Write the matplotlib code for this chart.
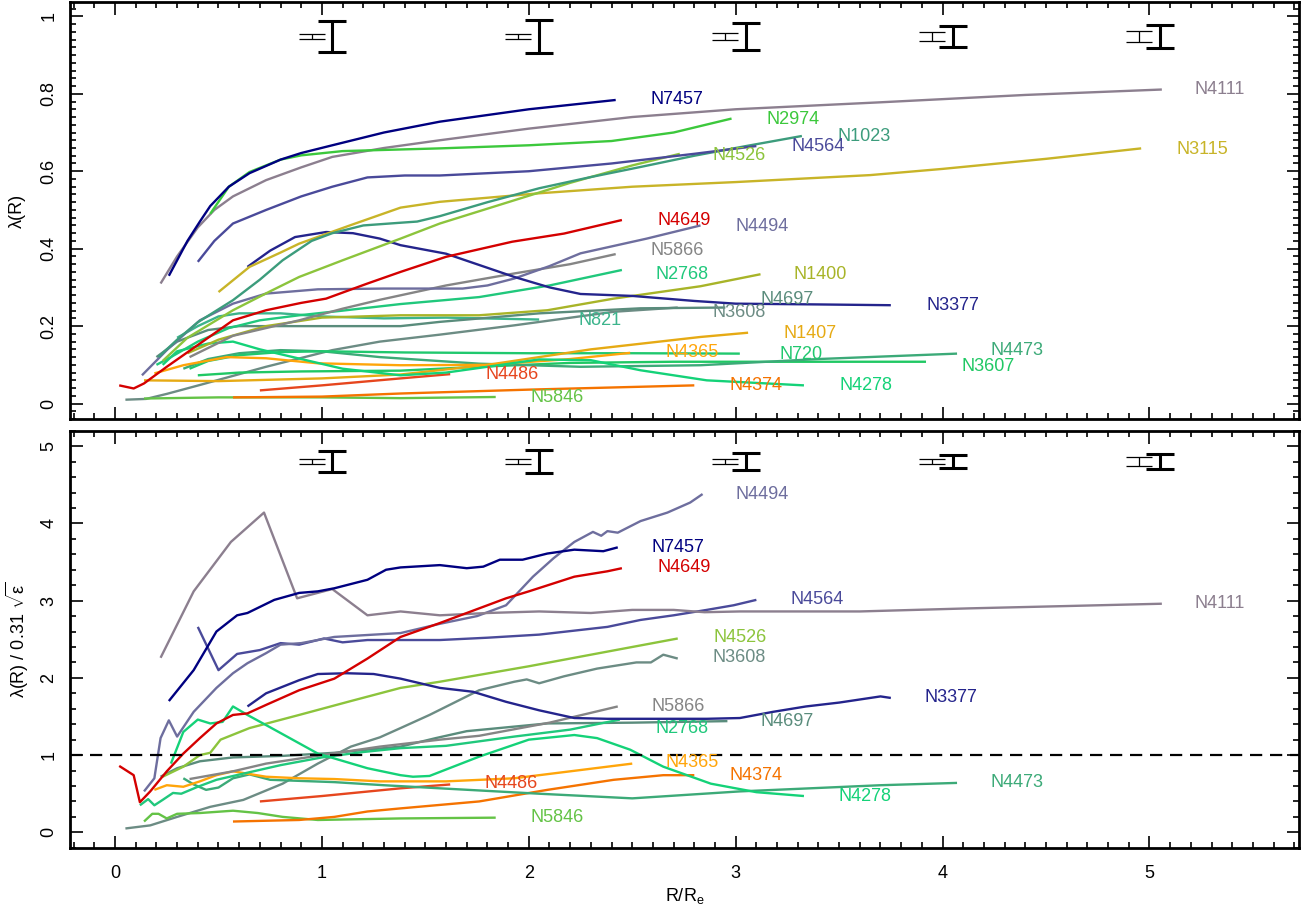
import matplotlib.pyplot as plt
from matplotlib.ticker import MultipleLocator

plt.rcParams['font.family'] = ['Liberation Sans', 'DejaVu Sans']
plt.rcParams['mathtext.fontset'] = 'custom'
plt.rcParams['mathtext.rm'] = 'Liberation Sans'
plt.rcParams['mathtext.it'] = 'Liberation Sans:italic'

# lambda(R) profiles: (R/Re, lambda)
lam_N7457 = [(0.26, 0.33), (0.35, 0.42), (0.41, 0.47), (0.46, 0.51), (0.55, 0.56), (0.65, 0.595), (0.8, 0.63),
             (0.9, 0.647), (1.05, 0.667), (1.3, 0.70), (1.57, 0.728), (2.0, 0.76), (2.42, 0.784)]
lam_N4111 = [(0.22, 0.31), (0.30, 0.38), (0.40, 0.455), (0.48, 0.50), (0.57, 0.535), (0.73, 0.577), (0.9, 0.61),
             (1.05, 0.637), (1.3, 0.66), (1.57, 0.68), (2.0, 0.71), (2.5, 0.74), (3.0, 0.76), (3.7, 0.778),
             (4.4, 0.797), (5.06, 0.811)]
lam_N2974 = [(0.46, 0.49), (0.55, 0.56), (0.65, 0.598), (0.8, 0.63), (0.9, 0.641), (1.1, 0.652), (1.57, 0.659),
             (2.0, 0.667), (2.4, 0.678), (2.7, 0.70), (2.98, 0.736)]
lam_N1023 = [(0.21, 0.12), (0.30, 0.165), (0.40, 0.21), (0.57, 0.267), (0.70, 0.32), (0.81, 0.37), (0.95, 0.42),
             (1.05, 0.44), (1.2, 0.46), (1.38, 0.467), (1.46, 0.47), (1.57, 0.484), (1.8, 0.52), (2.05, 0.556),
             (2.3, 0.585), (2.54, 0.611), (2.8, 0.64), (3.05, 0.665), (3.32, 0.691)]
lam_N4564 = [(0.40, 0.366), (0.48, 0.42), (0.57, 0.465), (0.73, 0.50), (0.9, 0.535), (1.05, 0.56), (1.22, 0.584),
             (1.4, 0.589), (1.57, 0.589), (2.0, 0.60), (2.4, 0.62), (2.8, 0.645), (3.1, 0.665)]
lam_N4526 = [(0.23, 0.11), (0.35, 0.17), (0.57, 0.241), (0.75, 0.29), (0.89, 0.327), (1.1, 0.37), (1.38, 0.426),
             (1.57, 0.465), (1.9, 0.52), (2.2, 0.57), (2.5, 0.615), (2.73, 0.645)]
lam_N3115 = [(0.50, 0.288), (0.65, 0.353), (0.8, 0.39), (0.89, 0.413), (1.14, 0.461), (1.38, 0.506), (1.57, 0.521),
             (2.05, 0.543), (2.5, 0.56), (3.0, 0.572), (3.65, 0.59), (4.0, 0.606), (4.5, 0.632), (4.96, 0.659)]
lam_N4649 = [(0.02, 0.047), (0.09, 0.039), (0.14, 0.052), (0.25, 0.095), (0.41, 0.155), (0.57, 0.215),
             (0.73, 0.241), (0.9, 0.26), (1.02, 0.271), (1.22, 0.31), (1.38, 0.34), (1.6, 0.379), (1.92, 0.418),
             (2.17, 0.439), (2.45, 0.474)]
lam_N4494 = [(0.13, 0.073), (0.25, 0.138), (0.41, 0.215), (0.57, 0.258), (0.73, 0.284), (0.98, 0.295),
             (1.3, 0.297), (1.68, 0.297), (1.8, 0.305), (1.93, 0.323), (2.1, 0.355), (2.25, 0.388), (2.57, 0.426),
             (2.83, 0.46)]
lam_N5866 = [(0.36, 0.12), (0.57, 0.175), (0.89, 0.215), (1.1, 0.245), (1.28, 0.268), (1.6, 0.305),
             (1.93, 0.336), (2.2, 0.36), (2.42, 0.386)]
lam_N2768 = [(0.2, 0.10), (0.27, 0.12), (0.4, 0.16), (0.55, 0.195), (0.7, 0.215), (0.89, 0.228), (1.1, 0.24),
             (1.38, 0.257), (1.76, 0.275), (2.1, 0.305), (2.45, 0.345)]
lam_N1400 = [(0.35, 0.13), (0.5, 0.165), (0.73, 0.20), (1.0, 0.222), (1.38, 0.228), (1.76, 0.228), (2.09, 0.241),
             (2.41, 0.271), (2.83, 0.303), (3.12, 0.334)]
lam_N3377 = [(0.64, 0.353), (0.75, 0.395), (0.87, 0.43), (1.02, 0.443), (1.15, 0.44), (1.28, 0.426),
             (1.38, 0.409), (1.6, 0.387), (1.93, 0.327), (2.1, 0.30), (2.25, 0.283), (2.5, 0.278), (2.8, 0.265),
             (3.0, 0.258), (3.4, 0.256), (3.75, 0.254)]
lam_N4697 = [(0.2, 0.12), (0.3, 0.16), (0.45, 0.19), (0.6, 0.2), (1.0, 0.2), (1.38, 0.2), (1.57, 0.211),
             (2.05, 0.233), (2.54, 0.246), (2.95, 0.248)]
lam_N3608 = [(0.05, 0.01), (0.15, 0.012), (0.25, 0.025), (0.41, 0.048), (0.73, 0.095), (1.05, 0.138),
             (1.28, 0.16), (1.57, 0.178), (1.93, 0.202), (2.41, 0.237), (2.72, 0.248)]
lam_N821 = [(0.3, 0.17), (0.4, 0.2), (0.5, 0.225), (0.6, 0.233), (0.8, 0.233), (1.0, 0.225), (1.3, 0.22),
            (1.6, 0.222), (2.05, 0.217)]
lam_N1407 = [(0.14, 0.06), (0.5, 0.058), (1.0, 0.065), (1.38, 0.075), (1.8, 0.10), (2.3, 0.14), (2.83, 0.172),
             (3.06, 0.183)]
lam_N4365 = [(0.19, 0.078), (0.33, 0.099), (0.54, 0.12), (0.73, 0.117), (0.98, 0.104), (1.38, 0.099),
             (1.8, 0.10), (2.2, 0.115), (2.49, 0.131)]
lam_N720 = [(0.36, 0.09), (0.45, 0.11), (0.6, 0.125), (0.8, 0.133), (1.0, 0.135), (1.4, 0.132), (2.0, 0.13),
            (2.5, 0.13), (3.02, 0.129)]
lam_N4473 = [(0.33, 0.09), (0.45, 0.115), (0.6, 0.13), (0.8, 0.138), (1.0, 0.135), (1.28, 0.12), (1.76, 0.103),
             (2.25, 0.095), (2.83, 0.099), (3.4, 0.115), (4.07, 0.129)]
lam_N3607 = [(0.40, 0.073), (0.6, 0.08), (0.9, 0.083), (1.38, 0.085), (1.76, 0.095), (2.2, 0.105), (2.7, 0.108),
             (3.3, 0.108), (3.92, 0.108)]
lam_N4486 = [(0.70, 0.034), (1.0, 0.047), (1.38, 0.065), (1.62, 0.076)]
lam_N4374 = [(0.57, 0.016), (1.0, 0.018), (1.38, 0.026), (2.0, 0.036), (2.8, 0.047)]
lam_N4278 = [(0.23, 0.10), (0.3, 0.135), (0.45, 0.155), (0.57, 0.16), (0.7, 0.14), (0.9, 0.115), (1.1, 0.09),
             (1.38, 0.073), (1.6, 0.08), (1.8, 0.095), (2.05, 0.114), (2.3, 0.112), (2.54, 0.086), (2.86, 0.06),
             (3.33, 0.047)]
lam_N5846 = [(0.14, 0.013), (0.5, 0.016), (1.0, 0.016), (1.38, 0.014), (1.84, 0.017)]

# normalised profiles: (R/Re, lambda / 0.31 sqrt(eps))
nrm_N4649 = [(0.02, 0.86), (0.09, 0.74), (0.12, 0.39), (0.17, 0.53), (0.25, 0.79), (0.33, 1.02), (0.41, 1.22),
             (0.49, 1.41), (0.57, 1.52), (0.64, 1.54), (0.73, 1.65), (0.89, 1.84), (1.06, 1.99), (1.22, 2.25),
             (1.38, 2.53), (1.57, 2.71), (1.89, 3.03), (2.0, 3.12), (2.22, 3.31), (2.38, 3.38), (2.45, 3.42)]
nrm_N7457 = [(0.26, 1.70), (0.38, 2.10), (0.49, 2.60), (0.59, 2.81), (0.64, 2.84), (0.77, 3.01), (0.89, 3.10),
             (0.98, 3.12), (1.06, 3.16), (1.22, 3.27), (1.31, 3.40), (1.38, 3.43), (1.57, 3.46), (1.70, 3.42),
             (1.78, 3.44), (1.86, 3.53), (1.97, 3.53), (2.09, 3.61), (2.22, 3.66), (2.36, 3.64), (2.43, 3.69)]
nrm_N4111 = [(0.22, 2.26), (0.38, 3.12), (0.56, 3.76), (0.72, 4.14), (0.88, 3.03), (1.05, 3.15), (1.22, 2.81),
             (1.38, 2.86), (1.57, 2.81), (1.8, 2.84), (2.05, 2.86), (2.3, 2.84), (2.5, 2.88), (2.7, 2.88),
             (2.85, 2.85), (3.02, 2.86), (3.3, 2.86), (3.6, 2.86), (4.13, 2.90), (4.6, 2.93), (5.06, 2.96)]
nrm_N4564 = [(0.40, 2.66), (0.50, 2.10), (0.59, 2.31), (0.70, 2.36), (0.80, 2.45), (0.89, 2.43), (1.01, 2.51),
             (1.10, 2.46), (1.22, 2.49), (1.57, 2.49), (1.8, 2.52), (2.05, 2.56), (2.38, 2.66), (2.54, 2.75),
             (2.70, 2.81), (2.86, 2.88), (2.99, 2.94), (3.10, 3.01)]
nrm_N4494 = [(0.14, 0.53), (0.19, 0.70), (0.22, 1.22), (0.26, 1.45), (0.30, 1.24), (0.38, 1.56), (0.49, 1.87),
             (0.57, 2.06), (0.64, 2.19), (0.73, 2.32), (0.80, 2.43), (0.90, 2.45), (1.06, 2.53), (1.38, 2.58),
             (1.57, 2.70), (1.75, 2.80), (1.89, 2.94), (2.02, 3.31), (2.12, 3.55), (2.22, 3.76), (2.31, 3.89),
             (2.35, 3.84), (2.38, 3.90), (2.43, 3.88), (2.54, 4.03), (2.67, 4.14), (2.78, 4.27), (2.84, 4.38)]
nrm_N3377 = [(0.64, 1.63), (0.73, 1.80), (0.89, 1.97), (0.98, 2.05), (1.12, 2.06), (1.25, 2.05), (1.38, 1.99),
             (1.57, 1.87), (1.73, 1.82), (1.89, 1.69), (2.05, 1.58), (2.22, 1.48), (2.38, 1.47), (2.54, 1.47),
             (2.86, 1.47), (3.02, 1.48), (3.18, 1.56), (3.34, 1.63), (3.5, 1.68), (3.70, 1.76), (3.75, 1.74)]
nrm_N4526 = [(0.23, 0.72), (0.33, 0.85), (0.41, 1.0), (0.46, 1.03), (0.51, 1.20), (0.65, 1.35), (0.89, 1.52),
             (1.14, 1.70), (1.38, 1.87), (1.57, 1.95), (2.0, 2.15), (2.4, 2.35), (2.72, 2.51)]
nrm_N3608 = [(0.05, 0.05), (0.17, 0.09), (0.3, 0.2), (0.46, 0.33), (0.62, 0.42), (0.81, 0.63), (0.98, 0.89),
             (1.14, 1.11), (1.28, 1.23), (1.38, 1.35), (1.52, 1.52), (1.76, 1.84), (1.93, 1.95), (1.99, 1.98),
             (2.05, 1.93), (2.17, 2.02), (2.33, 2.12), (2.52, 2.20), (2.59, 2.20), (2.65, 2.30), (2.72, 2.25)]
nrm_N5866 = [(0.36, 0.69), (0.57, 0.79), (0.73, 0.89), (1.05, 1.02), (1.28, 1.11), (1.57, 1.2), (1.76, 1.25),
             (2.1, 1.42), (2.43, 1.63)]
nrm_N2768 = [(0.12, 0.35), (0.16, 0.43), (0.19, 0.35), (0.23, 0.42), (0.28, 0.51), (0.32, 0.50), (0.40, 0.59),
             (0.49, 0.68), (0.62, 0.76), (0.8, 0.87), (1.0, 0.97), (1.2, 1.04), (1.38, 1.09), (1.6, 1.12),
             (1.93, 1.24), (2.2, 1.33), (2.44, 1.46)]
nrm_N4278 = [(0.27, 0.89), (0.33, 1.30), (0.40, 1.46), (0.46, 1.41), (0.52, 1.43), (0.57, 1.63), (0.64, 1.52),
             (0.77, 1.33), (0.98, 1.02), (1.22, 0.83), (1.38, 0.74), (1.44, 0.72), (1.52, 0.73), (1.76, 0.98),
             (2.0, 1.20), (2.22, 1.26), (2.33, 1.22), (2.49, 1.07), (2.65, 0.85), (2.88, 0.63), (3.1, 0.52),
             (3.33, 0.47)]
nrm_N4473 = [(0.33, 0.70), (0.38, 0.62), (0.44, 0.55), (0.50, 0.58), (0.57, 0.70), (0.65, 0.75), (0.75, 0.68),
             (1.06, 0.65), (1.3, 0.61), (1.57, 0.57), (2.05, 0.50), (2.5, 0.44), (3.02, 0.53), (3.7, 0.61),
             (4.07, 0.64)]
nrm_N4365 = [(0.19, 0.55), (0.25, 0.61), (0.33, 0.59), (0.41, 0.66), (0.49, 0.74), (0.57, 0.79), (0.73, 0.72),
             (0.89, 0.70), (1.06, 0.69), (1.28, 0.66), (1.6, 0.66), (1.93, 0.70), (2.2, 0.79), (2.5, 0.89)]
nrm_N4486 = [(0.70, 0.40), (1.0, 0.47), (1.38, 0.57), (1.62, 0.62)]
nrm_N4374 = [(0.57, 0.14), (0.89, 0.16), (1.06, 0.20), (1.22, 0.27), (1.38, 0.31), (1.76, 0.40), (2.09, 0.55),
             (2.41, 0.68), (2.65, 0.74), (2.80, 0.74)]
nrm_N5846 = [(0.14, 0.14), (0.18, 0.24), (0.21, 0.24), (0.25, 0.18), (0.30, 0.24), (0.41, 0.25), (0.57, 0.28),
             (0.69, 0.25), (0.81, 0.20), (0.98, 0.16), (1.38, 0.18), (1.84, 0.19)]
nrm_N4697 = [(0.22, 0.72), (0.3, 0.83), (0.41, 0.92), (0.57, 0.97), (0.81, 0.99), (1.06, 1.03), (1.38, 1.11),
             (1.55, 1.22), (1.70, 1.31), (2.09, 1.41), (2.5, 1.42), (2.96, 1.44)]

# typical uncertainties at R/Re = 1..5
err_x = [1, 2, 3, 4, 5]
lam_err_small = [0.006, 0.006, 0.0085, 0.011, 0.014]
lam_err_big = [0.041, 0.043, 0.0345, 0.026, 0.0285]
nrm_err_small = [0.03, 0.028, 0.028, 0.028, 0.058]
nrm_err_big = [0.133, 0.145, 0.113, 0.086, 0.097]

colors = {
    'N7457': '#000080', 'N4111': '#8c7f8f', 'N2974': '#3cc83c', 'N1023': '#3c9c7c', 'N4564': '#4a4a9a',
    'N4526': '#8cc43c', 'N3115': '#c8b428', 'N4649': '#d40000', 'N4494': '#6e6e9e', 'N5866': '#858585',
    'N2768': '#20c87c', 'N1400': '#a8b428', 'N3377': '#24248c', 'N4697': '#5a8c7c', 'N3608': '#6c8c84',
    'N821': '#3cb48c', 'N1407': '#e6aa14', 'N4365': '#ffa50a', 'N720': '#20c86e', 'N4473': '#3caa78',
    'N3607': '#20c864', 'N4486': '#e6461e', 'N4374': '#f57300', 'N4278': '#14d278', 'N5846': '#64c346',
}

top = {
    'N3608': lam_N3608, 'N5846': lam_N5846, 'N4374': lam_N4374, 'N4486': lam_N4486, 'N3607': lam_N3607,
    'N4473': lam_N4473, 'N720': lam_N720, 'N1407': lam_N1407, 'N4365': lam_N4365, 'N4278': lam_N4278,
    'N821': lam_N821, 'N4697': lam_N4697, 'N1400': lam_N1400, 'N2768': lam_N2768, 'N5866': lam_N5866,
    'N4494': lam_N4494, 'N3377': lam_N3377, 'N4649': lam_N4649, 'N3115': lam_N3115, 'N4526': lam_N4526,
    'N1023': lam_N1023, 'N4564': lam_N4564, 'N4111': lam_N4111, 'N2974': lam_N2974, 'N7457': lam_N7457,
}
bottom = {
    'N3608': nrm_N3608, 'N5846': nrm_N5846, 'N4374': nrm_N4374, 'N4486': nrm_N4486, 'N4473': nrm_N4473,
    'N4365': nrm_N4365, 'N4697': nrm_N4697, 'N5866': nrm_N5866, 'N2768': nrm_N2768, 'N4526': nrm_N4526,
    'N4278': nrm_N4278, 'N3377': nrm_N3377, 'N4564': nrm_N4564, 'N4494': nrm_N4494, 'N4111': nrm_N4111,
    'N7457': nrm_N7457, 'N4649': nrm_N4649,
}

# where the galaxy names go (left edge, vertical centre)
top_labels = {
    'N7457': (2.59, 0.784), 'N4111': (5.22, 0.81), 'N2974': (3.15, 0.734), 'N1023': (3.49, 0.69),
    'N4564': (3.27, 0.663), 'N4526': (2.89, 0.64), 'N3115': (5.13, 0.657), 'N4649': (2.62, 0.474),
    'N4494': (3.0, 0.458), 'N5866': (2.59, 0.395), 'N2768': (2.61, 0.333), 'N1400': (3.28, 0.334),
    'N3377': (3.92, 0.252), 'N4697': (3.12, 0.27), 'N3608': (2.89, 0.236), 'N821': (2.24, 0.215),
    'N1407': (3.23, 0.182), 'N4365': (2.66, 0.132), 'N720': (3.21, 0.128), 'N4473': (4.23, 0.138),
    'N3607': (4.09, 0.097), 'N4486': (1.79, 0.075), 'N4374': (2.97, 0.046), 'N4278': (3.50, 0.046),
    'N5846': (2.01, 0.015),
}
bottom_labels = {
    'N4494': (3.0, 4.37), 'N7457': (2.594, 3.69), 'N4649': (2.621, 3.43), 'N4564': (3.266, 3.01),
    'N4111': (5.22, 2.96), 'N4526': (2.892, 2.52), 'N3608': (2.889, 2.26), 'N3377': (3.915, 1.74),
    'N5866': (2.594, 1.63), 'N4697': (3.122, 1.44), 'N2768': (2.613, 1.35), 'N4365': (2.663, 0.90),
    'N4374': (2.969, 0.74), 'N4486': (1.788, 0.63), 'N4473': (4.232, 0.65), 'N4278': (3.496, 0.47),
    'N5846': (2.009, 0.19),
}


def draw_panel(ax, profiles, labels, err_small, err_big, err_y):
    for name, pts in profiles.items():
        xs = [p[0] for p in pts]
        ys = [p[1] for p in pts]
        ax.plot(xs, ys, color=colors[name], lw=1.7, solid_capstyle='butt')
    for name, (x, y) in labels.items():
        ax.text(x, y, name, color=colors[name], fontsize=13, ha='left', va='center')
    xs_small = [x - 0.05 for x in err_x]
    xs_big = [x + 0.05 for x in err_x]
    ax.errorbar(xs_small, [err_y] * 5, yerr=err_small, fmt='none', ecolor='black',
                elinewidth=0.9, capsize=9.6, capthick=0.9)
    ax.errorbar(xs_big, [err_y] * 5, yerr=err_big, fmt='none', ecolor='black',
                elinewidth=2.2, capsize=10.2, capthick=2.2)
    ax.set_xlim(-0.2175, 5.723)
    ax.xaxis.set_major_locator(MultipleLocator(1))
    ax.xaxis.set_minor_locator(MultipleLocator(0.1))
    ax.tick_params(which='both', direction='in', top=True, right=True, width=1.2, labelsize=13)
    ax.tick_params(which='major', length=9, pad=9)
    ax.tick_params(which='minor', length=4.5)
    ax.tick_params(axis='x', which='major', pad=12)
    for s in ax.spines.values():
        s.set_linewidth(2)


fig = plt.figure(figsize=(13.12, 9.11), dpi=100)
ax1 = fig.add_axes([0.0534, 0.540, 0.9367, 0.4578])
ax2 = fig.add_axes([0.0534, 0.0688, 0.9367, 0.4584])

draw_panel(ax1, top, top_labels, lam_err_small, lam_err_big, 0.948)
ax1.set_ylim(-0.04, 1.037)
ax1.set_yticks([0, 0.2, 0.4, 0.6, 0.8, 1.0], ['0', '0.2', '0.4', '0.6', '0.8', '1'])
ax1.yaxis.set_minor_locator(MultipleLocator(0.02))
ax1.tick_params(labelbottom=False)
ax1.set_ylabel('λ(R)', fontsize=13, va='center')

draw_panel(ax2, bottom, bottom_labels, nrm_err_small, nrm_err_big, 4.80)
ax2.axhline(1.0, color='black', lw=1.6, dashes=(5.5, 3.5))
ax2.set_ylim(-0.207, 5.2)
ax2.set_yticks([0, 1, 2, 3, 4, 5], ['0', '1', '2', '3', '4', '5'])
ax2.yaxis.set_minor_locator(MultipleLocator(0.2))
ax2.set_ylabel('λ(R) / 0.31 $\\sqrt{\\mathrm{ε}}$', fontsize=13, va='center')
ax2.set_xlabel('R/R$_\\mathrm{e}$', fontsize=13)
ax2.xaxis.set_label_coords(0.5, -0.09)

for ax in (ax1, ax2):
    for lab in ax.get_yticklabels():
        lab.set_rotation(90)
        lab.set_va('center')
    ax.yaxis.set_label_coords(-0.0425, 0.5)

fig.savefig('out.png', dpi=100)
